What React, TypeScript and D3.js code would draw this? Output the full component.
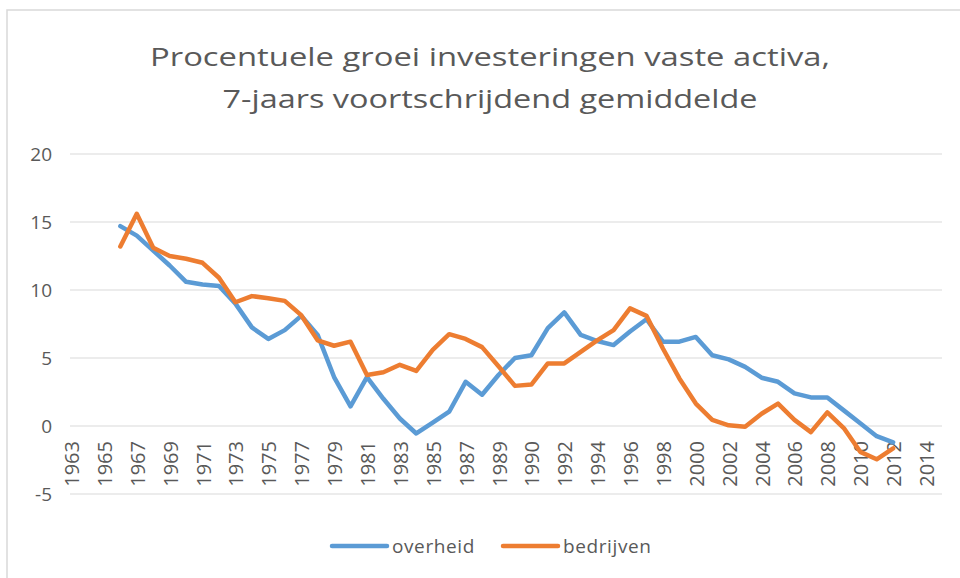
// @ts-nocheck
import React from 'react'
import * as d3 from 'd3'

const width = 960
const height = 578

// category axis: 1963..1989, an extra (unlabelled) 1989 point, then 1990..2014
const categories = [
  '1963', '1964', '1965', '1966', '1967', '1968', '1969', '1970', '1971', '1972',
  '1973', '1974', '1975', '1976', '1977', '1978', '1979', '1980', '1981', '1982',
  '1983', '1984', '1985', '1986', '1987', '1988', '1989', '1989', '1990', '1991',
  '1992', '1993', '1994', '1995', '1996', '1997', '1998', '1999', '2000', '2001',
  '2002', '2003', '2004', '2005', '2006', '2007', '2008', '2009', '2010', '2011',
  '2012', '2013', '2014',
]

const overheid = [
  null, null, null, 14.7, 14.0, 12.9, 11.8, 10.6, 10.4, 10.3,
  9.0, 7.25, 6.4, 7.05, 8.1, 6.7, 3.6, 1.45, 3.6, 2.0,
  0.55, -0.55, 0.25, 1.05, 3.25, 2.3, 3.75, 5.0, 5.2, 7.2,
  8.35, 6.7, 6.25, 5.95, 6.95, 7.85, 6.2, 6.2, 6.55, 5.2,
  4.9, 4.35, 3.55, 3.25, 2.4, 2.1, 2.1, 1.15, 0.2, -0.75,
  -1.2, null, null,
]

const bedrijven = [
  null, null, null, 13.2, 15.6, 13.1, 12.5, 12.3, 12.0, 10.9,
  9.1, 9.55, 9.4, 9.2, 8.15, 6.3, 5.9, 6.2, 3.75, 3.95,
  4.5, 4.05, 5.6, 6.75, 6.4, 5.8, 4.4, 2.95, 3.05, 4.6,
  4.6, 5.45, 6.3, 7.05, 8.65, 8.1, 5.7, 3.5, 1.65, 0.45,
  0.05, -0.05, 0.9, 1.65, 0.45, -0.45, 1.0, -0.15, -1.9, -2.45,
  -1.65, null, null,
]

const yTicks = [-5, 0, 5, 10, 15, 20]

const titleLines = [
  { text: 'Procentuele groei investeringen vaste activa,', length: 680 },
  { text: '7-jaars voortschrijdend gemiddelde', length: 535 },
]

const series = [
  { name: 'overheid', values: overheid, color: '#5B9BD5' },
  { name: 'bedrijven', values: bedrijven, color: '#ED7D31' },
]

const font = '"Open Sans", sans-serif'
const textColor = '#595959'
const gridColor = '#d9d9d9'

const plot = { left: 70, right: 942 }

export default function App() {
  const x = d3.scalePoint().domain(d3.range(categories.length)).range([71, 926])
  const y = d3.scaleLinear().domain([-5, 20]).range([494, 154])

  const line = d3
    .line()
    .defined((d) => d != null)
    .x((d, i) => x(i))
    .y((d) => y(d))

  return (
    <svg
      width={width}
      height={height}
      style={{ position: 'absolute', left: 0, top: 0, background: '#fff' }}
      fontFamily={font}
    >
      <rect x={7} y={10} width={width} height={height} fill="#fff" stroke={gridColor} strokeWidth={1.5} />

      {titleLines.map((t, i) => (
        <text
          key={i}
          x={490}
          y={66 + i * 42}
          textAnchor="middle"
          fontSize={26}
          fill={textColor}
          textLength={t.length}
          lengthAdjust="spacingAndGlyphs"
        >
          {t.text}
        </text>
      ))}

      <g className="grid">
        {yTicks.map((t) => (
          <g key={t}>
            <line x1={plot.left} x2={plot.right} y1={y(t)} y2={y(t)} stroke={gridColor} strokeWidth={1.2} />
            <text x={52} y={y(t)} dy="0.35em" textAnchor="end" fontSize={19} fill={textColor}>
              {t}
            </text>
          </g>
        ))}
      </g>

      <g className="axis x">
        {categories.map((c, i) =>
          i % 2 === 0 ? (
            <text
              key={i}
              transform={`translate(${x(i) + 1}, 441) rotate(-90)`}
              textAnchor="end"
              dy="0.35em"
              fontSize={20}
              fill={textColor}
            >
              {c}
            </text>
          ) : null
        )}
      </g>

      {series.map((s) => (
        <path
          key={s.name}
          d={line(s.values)}
          fill="none"
          stroke={s.color}
          strokeWidth={4.5}
          strokeLinejoin="round"
          strokeLinecap="round"
        />
      ))}

      <g className="legend">
        {series.map((s, i) => {
          const lx = 332 + i * 171
          return (
            <g key={s.name}>
              <line x1={lx} x2={lx + 55} y1={546} y2={546} stroke={s.color} strokeWidth={4.5} strokeLinecap="round" />
              <text x={lx + 60} y={546} dy="0.35em" fontSize={19} letterSpacing={0.6} fill={textColor}>
                {s.name}
              </text>
            </g>
          )
        })}
      </g>
    </svg>
  )
}
